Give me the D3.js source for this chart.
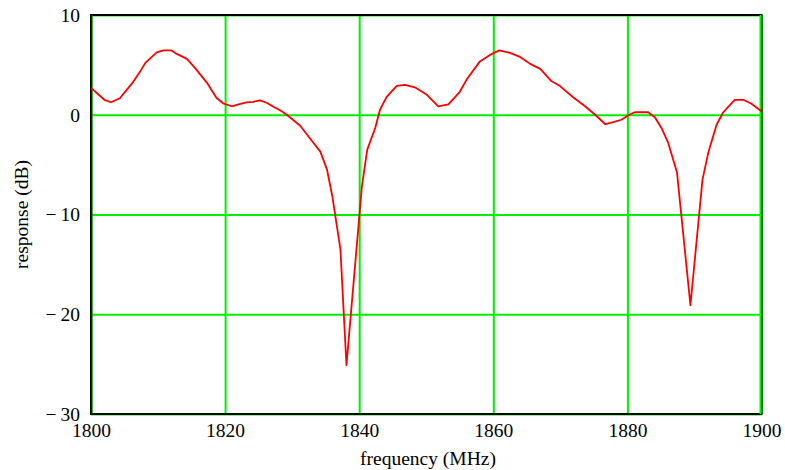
<!DOCTYPE html>
<html>
<head>
<meta charset="utf-8">
<script src="https://cdn.jsdelivr.net/npm/d3@7"></script>
<style>
  html, body { margin: 0; padding: 0; background: #fff; }
  svg { display: block; }
  text { font-family: "Liberation Serif", "Times New Roman", serif; }
</style>
</head>
<body>
<svg id="chart" width="785" height="470"></svg>
<script>
// ---- data ----
const freqMHz = [1800, 1802, 1803, 1804.3, 1806.3, 1807.3, 1808.1, 1809.8, 1810.8, 1812.0,
  1812.8, 1814.3, 1815.5, 1817.3, 1818.7, 1819.7, 1821.0, 1822.0, 1823.2, 1824.2,
  1825.2, 1826.2, 1827.2, 1828.2, 1829.2, 1831.2, 1832.7, 1834.2, 1835.2, 1836.0,
  1837.2, 1838.1, 1840.4, 1841.2, 1842.4, 1843.1, 1844.1, 1845.6, 1846.8, 1848.3,
  1850.1, 1851.8, 1853.3, 1855.0, 1856.0, 1858.0, 1859.5, 1860.9, 1862.5, 1864.0,
  1865.5, 1867.0, 1868.7, 1869.9, 1871.9, 1873.4, 1875.2, 1876.7, 1877.9, 1879.1,
  1880.4, 1881.1, 1883.1, 1884.1, 1885.1, 1886.1, 1887.4, 1889.4, 1891.2, 1892.1,
  1893.3, 1894.3, 1896.0, 1897.3, 1898.5, 1900];
const responseDB = [2.7, 1.5, 1.25, 1.65, 3.3, 4.3, 5.2, 6.25, 6.45, 6.45,
  6.1, 5.6, 4.7, 3.2, 1.7, 1.15, 0.85, 1.05, 1.25, 1.3,
  1.45, 1.2, 0.8, 0.45, 0, -1.1, -2.4, -3.7, -5.5, -8.2,
  -13.5, -25.1, -7.2, -3.5, -1.3, 0.5, 1.8, 2.9, 3.0, 2.75,
  2.0, 0.85, 1.05, 2.3, 3.5, 5.35, 6.0, 6.45, 6.2, 5.8,
  5.1, 4.6, 3.35, 2.9, 1.75, 1.0, 0, -0.95, -0.75, -0.5,
  0.05, 0.25, 0.25, -0.25, -1.35, -2.85, -5.8, -19.1, -6.5, -3.7,
  -1.0, 0.25, 1.5, 1.5, 1.1, 0.35];
const xTicks = [1800, 1820, 1840, 1860, 1880, 1900];
const xTickLabels = ["1800", "1820", "1840", "1860", "1880", "1900"];
const yTicks = [10, 0, -10, -20, -30];
const yTickLabels = ["10", "0", "\u2212\u200910", "\u2212\u200920", "\u2212\u200930"];
const xTitle = "frequency (MHz)";
const yTitle = "response (dB)";

// ---- layout ----
const mLeft = 91, mRight = 761.5, mTop = 15, mBottom = 414;
const W = mRight - mLeft, H = mBottom - mTop;
const svg = d3.select("#chart");

const x = d3.scaleLinear().domain([1800, 1900]).range([mLeft, mRight]);
const y = d3.scaleLinear().domain([-30, 10]).range([mBottom, mTop]);

const grid = "#00f000";
const fs = 19.5;

// vertical grid + x labels
const gx = svg.append("g")
  .attr("transform", `translate(0,${mBottom})`)
  .call(d3.axisBottom(x).tickValues(xTicks)
    .tickFormat((d, i) => xTickLabels[i]).tickSize(-H).tickPadding(9.5));
gx.select(".domain").remove();
gx.selectAll(".tick line").attr("stroke", grid).attr("stroke-width", 2);
gx.selectAll(".tick text").attr("fill", "#000").attr("font-size", fs)
  .attr("font-family", "Liberation Serif, serif");

// horizontal grid + y labels
const gy = svg.append("g")
  .attr("transform", `translate(${mLeft},0)`)
  .call(d3.axisLeft(y).tickValues(yTicks)
    .tickFormat((d, i) => yTickLabels[i]).tickSize(-W).tickPadding(11));
gy.select(".domain").remove();
gy.selectAll(".tick line").attr("stroke", grid).attr("stroke-width", 2);
gy.selectAll(".tick text").attr("fill", "#000").attr("font-size", fs)
  .attr("font-family", "Liberation Serif, serif");

// frame
svg.append("rect")
  .attr("x", mLeft).attr("y", mTop).attr("width", W).attr("height", H)
  .attr("fill", "none").attr("stroke", "#000").attr("stroke-width", 2);
svg.append("line").attr("x1", mLeft + 1).attr("x2", mLeft + 1).attr("y1", mTop).attr("y2", mBottom)
  .attr("stroke", "#006600").attr("stroke-width", 1);
svg.append("line").attr("x1", mRight - 1).attr("x2", mRight - 1).attr("y1", mTop).attr("y2", mBottom)
  .attr("stroke", grid).attr("stroke-width", 2);

// curve
const pts = freqMHz.map((f, i) => [f, responseDB[i]]);
svg.append("path")
  .datum(pts)
  .attr("fill", "none")
  .attr("stroke", "#ff0000")
  .attr("stroke-width", 1.8)
  .attr("stroke-linejoin", "round")
  .attr("d", d3.line().x(d => x(d[0])).y(d => y(d[1])));

// titles
svg.append("text")
  .attr("x", 428).attr("y", 465)
  .attr("text-anchor", "middle").attr("font-size", fs).attr("fill", "#000")
  .text(xTitle);
svg.append("text")
  .attr("transform", `translate(28,${(mTop + mBottom) / 2}) rotate(-90)`)
  .attr("text-anchor", "middle").attr("font-size", fs).attr("fill", "#000")
  .text(yTitle);
</script>
</body>
</html>
